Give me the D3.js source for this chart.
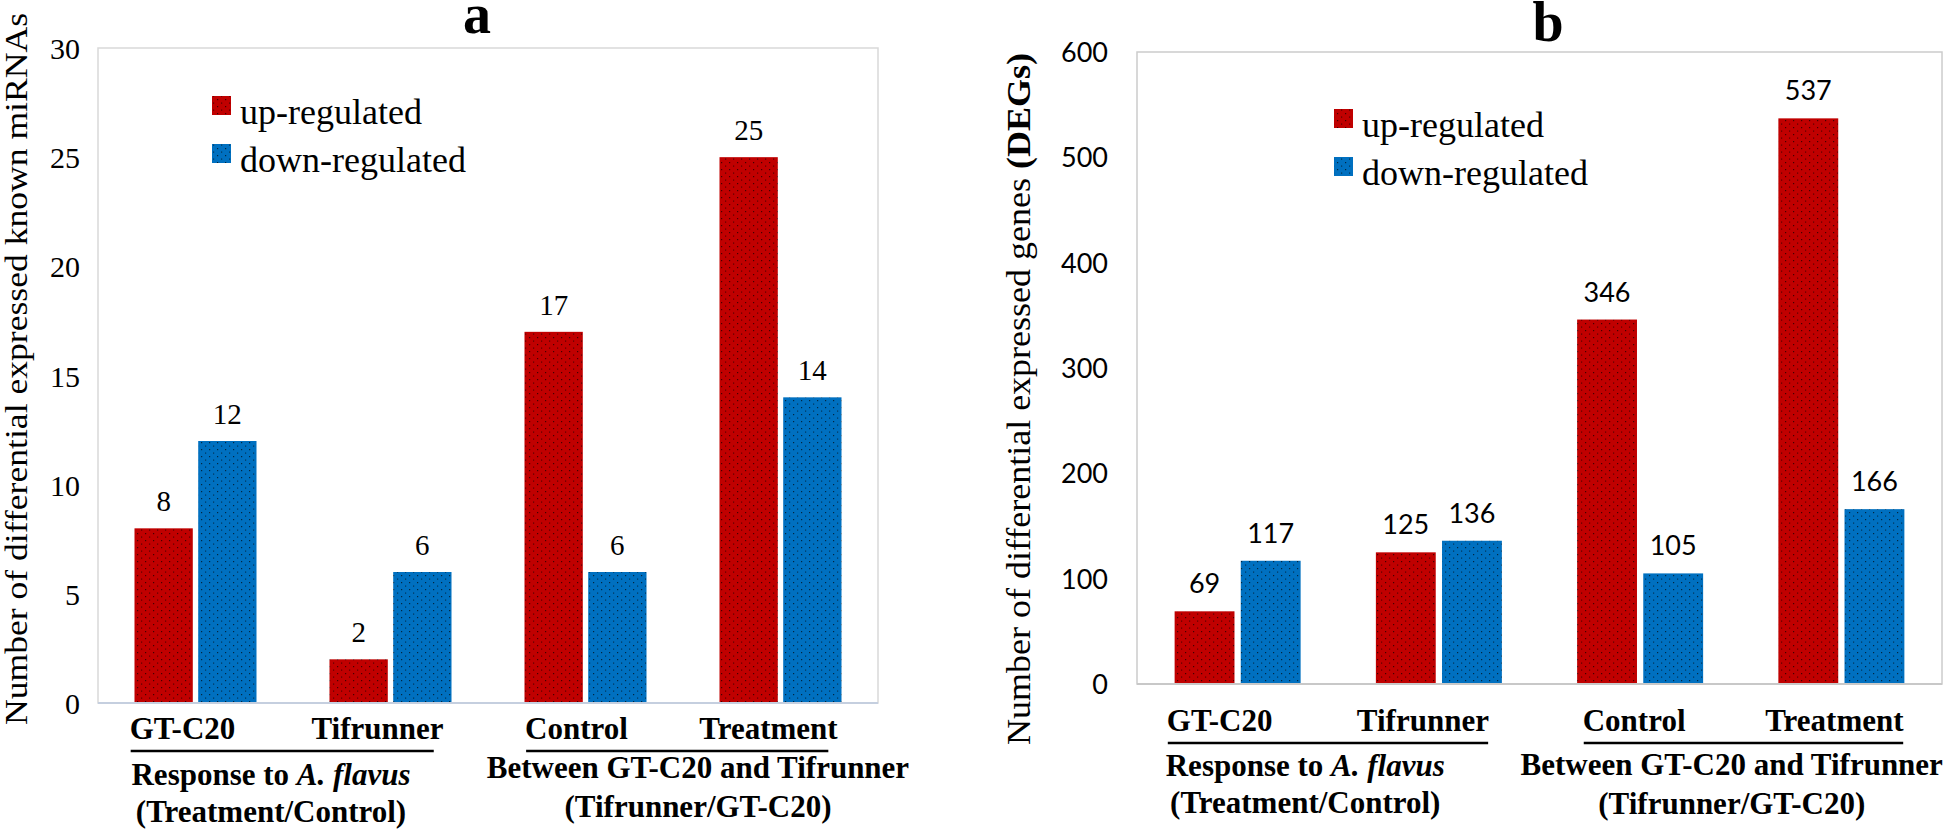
<!DOCTYPE html>
<html>
<head>
<meta charset="utf-8">
<script src="https://cdn.jsdelivr.net/npm/d3@7/dist/d3.min.js"></script>
<style>
  html, body { margin: 0; padding: 0; background: #fff; }
  svg { display: block; }
</style>
</head>
<body>
<svg id="chart" width="1946" height="830"></svg>
<script>
// ---------- DATA ----------
const categories = ["GT-C20", "Tifrunner", "Control", "Treatment"];
const seriesNames = ["up-regulated", "down-regulated"];
const seriesColors = ["#C00000", "#0070C0"];

const miRNAUp = [8, 2, 17, 25];
const miRNADown = [12, 6, 6, 14];
const miRNATicks = [0, 5, 10, 15, 20, 25, 30];

const degUp = [69, 125, 346, 537];
const degDown = [117, 136, 105, 166];
const degTicks = [0, 100, 200, 300, 400, 500, 600];

const superLine1 = [["Response to ", "A. flavus"], ["Between GT-C20 and Tifrunner", ""]];
const superLine2 = ["(Treatment/Control)", "(Tifrunner/GT-C20)"];

const titleA = "a", titleB = "b";
const yTitleA = "Number of differential expressed known miRNAs";
const yTitleB = ["Number of differential expressed genes ", "(DEGs)"];

// ---------- DRAW ----------
const svg = d3.select("#chart");
const SERIF = "'Liberation Serif', 'Times New Roman', Times, serif";
const SANS = "Lato, 'Open Sans', sans-serif";

// textured fills
const defs = svg.append("defs");
seriesColors.forEach((c, i) => {
  const p = defs.append("pattern").attr("id", "tex" + i)
    .attr("patternUnits", "userSpaceOnUse").attr("width", 8).attr("height", 7);
  p.append("rect").attr("width", 8).attr("height", 7).attr("fill", c);
  p.append("rect").attr("x", 1).attr("y", 1).attr("width", 1.2).attr("height", 1.2).attr("fill", "#000").attr("opacity", 0.65);
  p.append("rect").attr("x", 5).attr("y", 4.5).attr("width", 1.2).attr("height", 1.2).attr("fill", "#000").attr("opacity", 0.55);
});

function txt(sel, family, size, weight) {
  return sel.style("font-family", family).style("font-size", size + "px")
    .style("font-weight", weight || "normal").attr("fill", "#000");
}

function drawPanel(cfg) {
  const g = svg.append("g");
  const yMax = cfg.ticks[cfg.ticks.length - 1];
  const y = d3.scaleLinear().domain([0, yMax]).range([cfg.bottom, cfg.top]);
  const x0 = d3.scaleBand().domain(categories).range([cfg.left, cfg.right]).paddingInner(0).paddingOuter(0);
  const x1 = d3.scaleBand().domain(seriesNames).range([0, cfg.clusterW]).paddingInner(cfg.barGap).paddingOuter(0);

  // frame
  g.append("rect").attr("x", cfg.left).attr("y", y(yMax))
    .attr("width", cfg.right - cfg.left).attr("height", cfg.bottom - y(yMax))
    .attr("fill", "none").attr("stroke", cfg.frameColor).attr("stroke-width", 1.5);

  // y axis (labels only)
  const ax = g.append("g").attr("transform", `translate(${cfg.tickRight},0)`)
    .call(d3.axisLeft(y).tickValues(cfg.ticks).tickSize(0).tickPadding(0));
  ax.select(".domain").remove();
  ax.attr("font-family", null).attr("font-size", null);
  txt(ax.selectAll("text"), cfg.tickFont, cfg.tickSize).attr("dy", "0.35em");

  // bars
  const series = [cfg.up, cfg.down];
  categories.forEach((cat, ci) => {
    const cx = x0(cat) + x0.bandwidth() / 2;
    const start = cx - cfg.clusterW / 2;
    seriesNames.forEach((s, si) => {
      const v = series[si][ci];
      const bx = start + x1(s);
      g.append("rect").attr("x", bx).attr("y", y(v)).attr("width", x1.bandwidth())
        .attr("height", y(0) - y(v)).attr("fill", `url(#tex${si})`);
      txt(g.append("text"), cfg.valueFont, cfg.valueSize)
        .attr("x", bx + x1.bandwidth() / 2).attr("y", y(v) - cfg.valueGap)
        .attr("text-anchor", "middle").text(v);
    });
  });

  // baseline
  g.append("line").attr("x1", cfg.left).attr("x2", cfg.right).attr("y1", y(0)).attr("y2", y(0))
    .attr("stroke", cfg.baseColor).attr("stroke-width", 2);

  // category labels
  const catNodes = categories.map((cat, ci) => {
    const cx = x0(cat) + x0.bandwidth() / 2 + cfg.catDx[ci];
    return txt(g.append("text"), SERIF, 31, "bold")
      .attr("x", cx).attr("y", cfg.catY).attr("text-anchor", "middle").text(cat).node();
  });

  // super groups
  [0, 1].forEach(k => {
    const b1 = catNodes[2 * k].getBBox(), b2 = catNodes[2 * k + 1].getBBox();
    g.append("line").attr("x1", b1.x + 1).attr("x2", b2.x + b2.width - cfg.lineTrim)
      .attr("y1", cfg.lineY).attr("y2", cfg.lineY).attr("stroke", "#000").attr("stroke-width", 2.5);
    const mid = (x0(categories[2 * k]) + x0(categories[2 * k + 1]) + x0.bandwidth()) / 2 + cfg.superDx[k];
    const t1 = txt(g.append("text"), SERIF, 31, "bold")
      .attr("x", mid).attr("y", cfg.superY1[k]).attr("text-anchor", "middle");
    t1.append("tspan").text(superLine1[k][0]);
    if (superLine1[k][1]) t1.append("tspan").style("font-style", "italic").text(superLine1[k][1]);
    txt(g.append("text"), SERIF, 31, "bold")
      .attr("x", mid).attr("y", cfg.superY2[k]).attr("text-anchor", "middle").text(superLine2[k]);
  });

  // legend
  seriesNames.forEach((s, si) => {
    const by = cfg.legendY[si];
    g.append("rect").attr("x", cfg.legendX).attr("y", by - 28).attr("width", 19).attr("height", 19)
      .attr("fill", `url(#tex${si})`);
    txt(g.append("text"), SERIF, 36).attr("x", cfg.legendX + 28).attr("y", by).text(s);
  });

  // title
  txt(g.append("text"), SERIF, 56, "bold")
    .attr("x", cfg.titleX).attr("y", cfg.titleY).attr("text-anchor", "middle").text(cfg.title);

  // y title
  const yt = txt(g.append("text"), SERIF, cfg.yTitleSize)
    .attr("transform", `translate(${cfg.yTitleX},${cfg.yTitleCY}) rotate(-90)`)
    .attr("text-anchor", "middle")
    .attr("textLength", cfg.yTitleLen).attr("lengthAdjust", "spacingAndGlyphs");
  cfg.yTitle.forEach((part, i) => {
    yt.append("tspan").style("font-weight", i === 1 ? "bold" : "normal").text(part);
  });
}

drawPanel({
  left: 98, right: 878, top: 48, bottom: 703, ticks: miRNATicks,
  up: miRNAUp, down: miRNADown, clusterW: 122, barGap: 0.085,
  frameColor: "#d9d9d9", baseColor: "#c5cfdf",
  tickRight: 80, tickFont: SERIF, tickSize: 30,
  valueFont: SERIF, valueSize: 29, valueGap: 17,
  catDx: [-13, -13, -9, -12], catY: 739, lineY: 751, lineTrim: 10,
  superDx: [-22, 15], superY1: [785, 778], superY2: [822, 817],
  legendX: 212, legendY: [124, 172],
  title: titleA, titleX: 477, titleY: 33,
  yTitle: [yTitleA], yTitleX: 27, yTitleCY: 369, yTitleLen: 712, yTitleSize: 32
});

drawPanel({
  left: 1137, right: 1942, top: 52, bottom: 684, ticks: degTicks,
  up: degUp, down: degDown, clusterW: 126, barGap: 0.095,
  frameColor: "#cccccc", baseColor: "#c8c8c8",
  tickRight: 1108, tickFont: SANS, tickSize: 27,
  valueFont: SANS, valueSize: 27, valueGap: 18,
  catDx: [-18, -16, -6, -7], catY: 731, lineY: 743, lineTrim: 1,
  superDx: [-33, -9], superY1: [776, 775], superY2: [813, 814],
  legendX: 1334, legendY: [137, 185],
  title: titleB, titleX: 1548, titleY: 41,
  yTitle: yTitleB, yTitleX: 1030, yTitleCY: 399, yTitleLen: 692, yTitleSize: 34
});
</script>
</body>
</html>
